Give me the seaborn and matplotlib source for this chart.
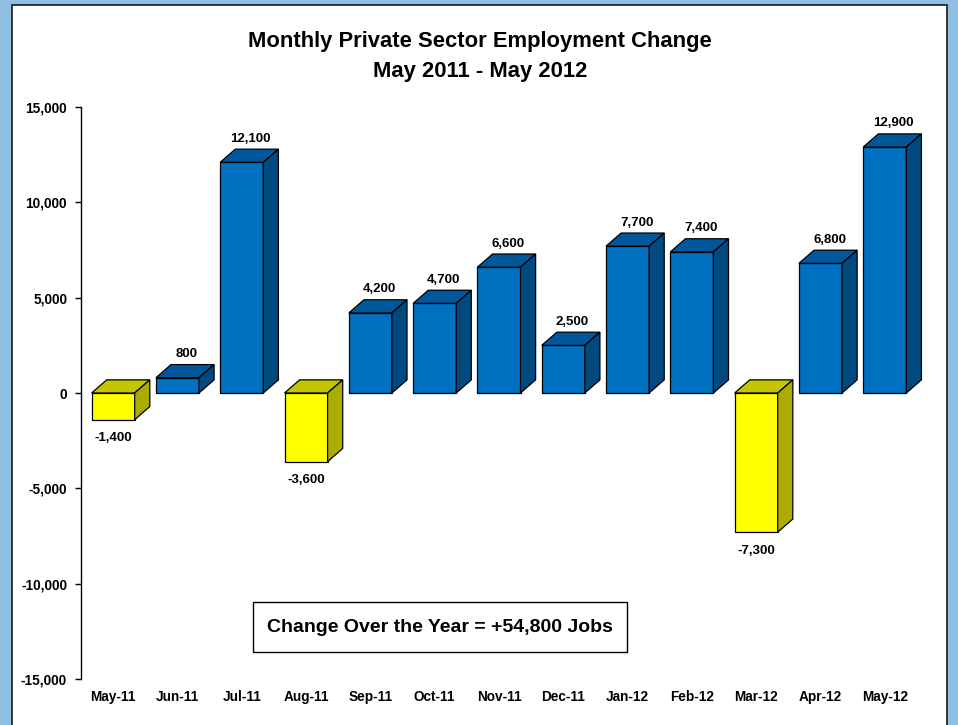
import matplotlib
matplotlib.use("Agg")
import matplotlib.pyplot as plt
import seaborn as sns
import pandas as pd
import numpy as np
from matplotlib.patches import Polygon, Rectangle
from matplotlib.ticker import FuncFormatter

months = ["May-11", "Jun-11", "Jul-11", "Aug-11", "Sep-11", "Oct-11", "Nov-11",
          "Dec-11", "Jan-12", "Feb-12", "Mar-12", "Apr-12", "May-12"]
changes = [-1400, 800, 12100, -3600, 4200, 4700, 6600, 2500, 7700, 7400, -7300, 6800, 12900]
title_lines = ["Monthly Private Sector Employment Change", "May 2011 - May 2012"]
summary = "Change Over the Year = +54,800 Jobs"
yticks = [-15000, -10000, -5000, 0, 5000, 10000, 15000]

sns.set_theme(style="white")
plt.rcParams['font.family'] = ['Liberation Sans', 'DejaVu Sans']
plt.rcParams['font.weight'] = 'bold'

W, H = 958, 725
fig = plt.figure(figsize=(W / 100, H / 100), dpi=100, facecolor='#8FBFE3')
panel = Rectangle((12 / W, -0.02), 935 / W, 1 - 5 / H + 0.02, transform=fig.transFigure,
                  facecolor='white', edgecolor='#1a1a1a', lw=1.2, zorder=-10)
fig.patches.append(panel)

ax = fig.add_axes([81 / W, 1 - 679 / H, 852 / W, 572 / H])
ax.set_facecolor('none')
ax.set_zorder(1)

df = pd.DataFrame({"month": months, "change": changes})
df["sign"] = np.where(df["change"] < 0, "neg", "pos")
front = {"neg": "#FFFF00", "pos": "#0070C0"}
topc = {"neg": "#C4C400", "pos": "#00589C"}
sidec = {"neg": "#ABAB00", "pos": "#004A80"}

sns.barplot(data=df, x="month", y="change", hue="sign", palette=front, dodge=False,
            saturation=1, width=0.67, edgecolor="black", linewidth=0.9, legend=False, ax=ax,
            order=months, hue_order=["neg", "pos"])

ax.set_xlim(-0.5, 12.75)
ax.set_ylim(-15000, 15000)

dx = 0.235
dy = 690
for p in list(ax.patches):
    h = p.get_height()
    if h == 0 or np.isnan(h):
        continue
    x0 = p.get_x()
    x1 = x0 + p.get_width()
    y0 = p.get_y()
    top = max(y0, y0 + h)
    bot = min(y0, y0 + h)
    key = "neg" if h < 0 else "pos"
    ax.add_patch(Polygon([(x0, top), (x0 + dx, top + dy), (x1 + dx, top + dy), (x1, top)],
                         closed=True, facecolor=topc[key], edgecolor="black", lw=0.9, zorder=3))
    ax.add_patch(Polygon([(x1, bot), (x1 + dx, bot + dy), (x1 + dx, top + dy), (x1, top)],
                         closed=True, facecolor=sidec[key], edgecolor="black", lw=0.9, zorder=3))
    xc = (x0 + x1) / 2
    label = f"{h:,.0f}"
    if h > 0:
        ax.annotate(label, (xc + dx * 0.6, top + dy), xytext=(0, 7.5), textcoords="offset points",
                    ha="center", va="center", fontsize=9.5, fontweight="bold", color="black")
    else:
        ax.annotate(label, (xc, bot), xytext=(0, -13.5), textcoords="offset points",
                    ha="center", va="center", fontsize=9.5, fontweight="bold", color="black")

ax.set_yticks(yticks)
ax.yaxis.set_major_formatter(FuncFormatter(lambda v, _: f"{v:,.0f}"))
ax.tick_params(axis="y", left=True, length=4, width=1, pad=6, labelsize=9.8, colors="black")
ax.tick_params(axis="x", bottom=False, length=0, pad=16, labelsize=9.8, colors="black")
for lab in ax.get_yticklabels():
    lab.set_fontweight("bold")
for lab in ax.get_xticklabels():
    lab.set_fontweight("bold")
    lab.set_verticalalignment("baseline")
ax.set_xlabel("")
ax.set_ylabel("")
for s in ["top", "right", "bottom"]:
    ax.spines[s].set_visible(False)
ax.spines["left"].set_color("black")
ax.spines["left"].set_linewidth(1)

fig.text(480 / W, 1 - 41 / H, title_lines[0], ha="center", va="center", fontsize=15.8,
         fontweight="bold", color="black")
fig.text(480 / W, 1 - 71 / H, title_lines[1], ha="center", va="center", fontsize=15.8,
         fontweight="bold", color="black")

box = Rectangle((253 / W, 1 - 652 / H), 374 / W, 50 / H, transform=ax.figure.transFigure,
                facecolor="white", edgecolor="black", lw=1, zorder=5)
ax.add_artist(box)
box.set_clip_on(False)
ax.text(440 / W, 1 - 628 / H, summary, transform=fig.transFigure, ha="center", va="center",
        fontsize=14, fontweight="bold", color="black", zorder=6)

fig.savefig("out.png", dpi=100, facecolor=fig.get_facecolor())
